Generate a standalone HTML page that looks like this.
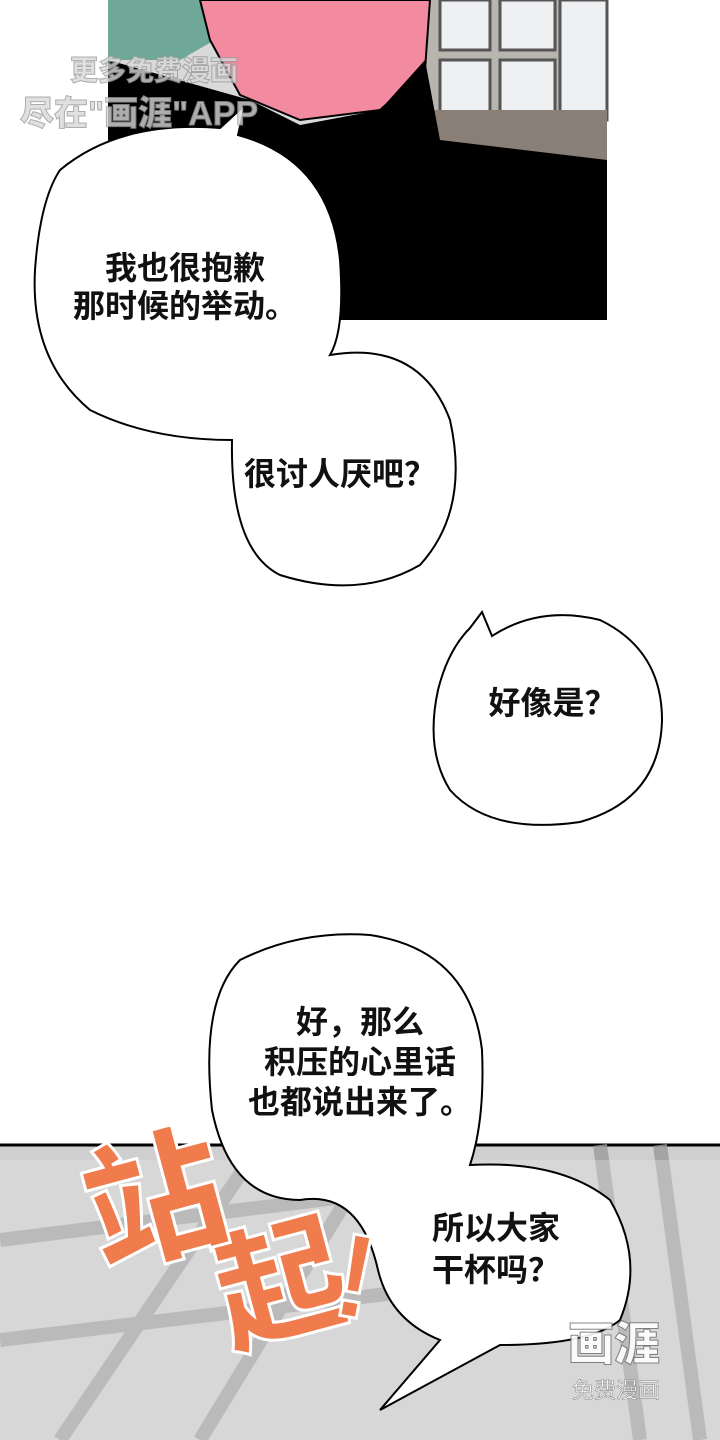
<!DOCTYPE html>
<html><head><meta charset="utf-8"><style>
html,body{margin:0;padding:0;background:#fff;}
body{width:720px;height:1440px;position:relative;overflow:hidden;font-family:"Liberation Sans","Noto Sans CJK SC",sans-serif;}
.t{position:absolute;font-size:32px;color:#111;text-align:center;line-height:38px;font-weight:bold;white-space:nowrap;}
</style></head><body>
<svg width="720" height="1440" style="position:absolute;left:0;top:0">
<rect x="108" y="0" width="499" height="320" fill="#d9d9d9"/>
<rect x="420" y="0" width="187" height="160" fill="#b8b4ae"/>
<g fill="#eef0f2" stroke="#555" stroke-width="3">
<rect x="440" y="0" width="50" height="50"/><rect x="500" y="0" width="55" height="50"/>
<rect x="440" y="60" width="50" height="60"/><rect x="500" y="60" width="55" height="60"/>
<rect x="560" y="0" width="47" height="120"/>
</g>
<rect x="425" y="110" width="182" height="60" fill="#8a7f76"/>
<path d="M108,0 L200,0 L215,40 L180,60 L108,60 Z" fill="#6fa896"/>
<path d="M200,0 L430,0 L425,70 L380,110 L300,120 L240,95 L210,40 Z" fill="#f28aa0" stroke="#000" stroke-width="2"/>
<path d="M108,60 L250,100 L300,125 L380,110 L425,60 L440,140 L607,160 L607,320 L108,320 Z" fill="#000"/>
<rect x="0" y="1145" width="720" height="295" fill="#cfcfcf"/>
<line x1="0" y1="1145" x2="720" y2="1145" stroke="#000" stroke-width="3"/>
<g stroke="#9a9a9a" stroke-width="14" fill="none" opacity=".8">
<path d="M0,1240 L400,1190"/><path d="M0,1340 L420,1290"/><path d="M60,1440 L260,1145"/><path d="M200,1440 L380,1145"/>
<path d="M600,1145 L640,1440"/><path d="M660,1145 L700,1440"/>
</g>
<rect x="0" y="1160" width="720" height="280" fill="#e6e6e6" opacity=".35"/>
<g fill="#fff" stroke="#000" stroke-width="2">
<path d="M60,170 Q120,120 220,128 L245,105 L238,135 Q330,160 340,260 Q345,330 330,355 Q420,340 450,420 Q470,510 420,565 Q360,600 280,575 Q230,550 232,440 Q150,440 90,410 Q30,360 35,270 Q40,200 60,170 Z"/>
<path d="M470,628 L482,612 L492,636 Q540,605 600,620 Q662,650 662,720 Q660,800 580,822 Q490,835 450,790 Q425,750 438,690 Q448,650 470,628 Z"/>
<path d="M240,960 Q300,930 370,935 Q470,950 482,1050 Q485,1120 470,1165 Q560,1160 610,1200 Q645,1260 620,1320 Q590,1345 500,1345 L380,1410 L440,1340 Q390,1320 378,1270 Q360,1190 300,1200 Q230,1200 212,1110 Q200,1000 240,960 Z"/>
</g>
<g fill="#f07c4e" stroke="#fff" stroke-width="3" font-family="Liberation Sans,'Noto Sans CJK SC',sans-serif" font-weight="900">
<text x="85" y="1250" font-size="140" transform="rotate(-15 160 1200)">站</text>
<text x="215" y="1330" font-size="130" transform="rotate(-15 280 1280)">起</text>
<text x="335" y="1320" font-size="120" transform="rotate(10 370 1280)">!</text>
</g>
<g fill="#d9d9d9" stroke="#999" stroke-width="1" font-family="Liberation Sans,'Noto Sans CJK SC',sans-serif" font-weight="900" opacity=".8">
<text x="70" y="80" font-size="28">更多免费漫画</text>
<text x="20" y="125" font-size="34">尽在"画涯"APP</text>
</g>
<g fill="#fff" opacity=".9" font-family="Liberation Sans,'Noto Sans CJK SC',sans-serif">
<text x="568" y="1360" font-size="46" font-weight="900" stroke="#777" stroke-width="1">画涯</text>
<text x="572" y="1398" font-size="22" stroke="#777" stroke-width=".5">免费漫画</text>
</g>
</svg>
<div class="t" style="left:35px;top:249px;width:300px;">我也很抱歉<br>那时候的举动。</div>
<div class="t" style="left:230px;top:455px;width:220px;">很讨人厌吧？</div>
<div class="t" style="left:475px;top:684px;width:155px;">好像是？</div>
<div class="t" style="left:220px;top:1002px;width:280px;line-height:40px;">好，那么<br>积压的心里话<br>也都说出来了。</div>
<div class="t" style="left:432px;top:1207px;width:160px;text-align:left;line-height:42px;">所以大家<br>干杯吗？</div>
</body></html>
